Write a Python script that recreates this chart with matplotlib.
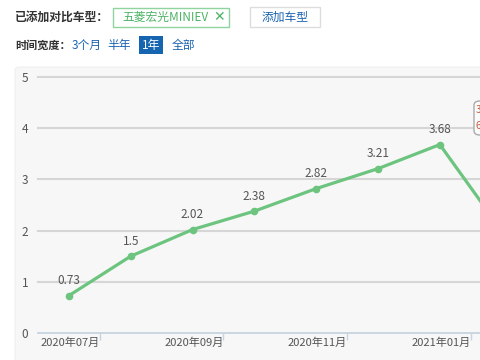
import matplotlib
matplotlib.use("Agg")
import matplotlib.pyplot as plt
from matplotlib.patches import FancyBboxPatch

plt.rcParams['font.family'] = ['Noto Sans CJK SC', 'DejaVu Sans']

months = ['2020年07月', '2020年08月', '2020年09月', '2020年10月',
          '2020年11月', '2020年12月', '2021年01月', '2021年02月']
values = [0.73, 1.5, 2.02, 2.38, 2.82, 3.21, 3.68, 2.0]
tick_labels = ['2020年07月', '2020年09月', '2020年11月', '2021年01月']
tick_pos = [0.5, 2.5, 4.5, 6.5]
y_ticks = [0, 1, 2, 3, 4, 5]

line_green = '#6cc47f'
blue = '#1a63b0'
gray_txt = '#555555'

fig = plt.figure(figsize=(4.8, 3.6), dpi=100)
fig.patch.set_facecolor('white')

# chart panel background
panel = FancyBboxPatch((15 / 480, -0.05), 1.0, 0.05 + 293 / 360,
                       boxstyle='round,pad=0,rounding_size=0.01',
                       transform=fig.transFigure, facecolor='#f7f7f7',
                       edgecolor='#efefef', linewidth=0.8, zorder=-5)
fig.patches.append(panel)

# header row 1
fig.text(15 / 480, 1 - 17 / 360, '已添加对比车型：', fontsize=8.5, fontweight='bold',
         color='#333333', va='center', ha='left')
tag = FancyBboxPatch((113 / 480, 1 - 27 / 360), 116 / 480, 19 / 360,
                     boxstyle='square,pad=0', transform=fig.transFigure,
                     facecolor='white', edgecolor='#8fd49f', linewidth=1.0)
fig.patches.append(tag)
fig.text(122 / 480, 1 - 17.5 / 360, '五菱宏光MINIEV', fontsize=8.5, color='#4cb365',
         va='center', ha='left')
fig.text(219 / 480, 1 - 17.5 / 360, '✕', fontsize=10, color='#4cb365',
         va='center', ha='center', family='DejaVu Sans')
btn = FancyBboxPatch((250 / 480, 1 - 27 / 360), 70 / 480, 20 / 360,
                     boxstyle='square,pad=0', transform=fig.transFigure,
                     facecolor='white', edgecolor='#dddddd', linewidth=1.0)
fig.patches.append(btn)
fig.text(285 / 480, 1 - 17 / 360, '添加车型', fontsize=8.5, color=blue,
         va='center', ha='center')

# header row 2
fig.text(15 / 480, 1 - 45 / 360, '时间宽度：', fontsize=8, fontweight='bold',
         color='#333333', va='center', ha='left')
fig.text(72 / 480, 1 - 45 / 360, '3个月', fontsize=8.5, color=blue, va='center', ha='left')
fig.text(107 / 480, 1 - 45 / 360, '半年', fontsize=8.5, color=blue, va='center', ha='left')
sel = FancyBboxPatch((139 / 480, 1 - 54 / 360), 24 / 480, 18 / 360,
                     boxstyle='square,pad=0', transform=fig.transFigure,
                     facecolor='#1565b0', edgecolor='none')
fig.patches.append(sel)
fig.text(151 / 480, 1 - 45 / 360, '1年', fontsize=8.5, color='white', va='center', ha='center')
fig.text(172 / 480, 1 - 45 / 360, '全部', fontsize=8.5, color=blue, va='center', ha='left')

# main chart
ax = fig.add_axes([38 / 480, 27 / 360, 442 / 480, 256 / 360])
ax.set_zorder(2)
ax.set_facecolor('none')
x = list(range(len(values)))
ax.plot(x, values, color=line_green, lw=2.3, marker='o', markersize=5.5,
        markeredgewidth=0, zorder=3, clip_on=True)
for xi, v in zip(x, values):
    if xi < 7:
        ax.annotate(f'{v:g}', (xi, v), xytext=(0, 6), textcoords='offset points',
                    ha='center', va='bottom', fontsize=8.5, color=gray_txt)

ax.set_xlim(-0.5, 6.65)
ax.set_ylim(0, 5)
ax.set_yticks(y_ticks)
ax.set_yticklabels([str(t) for t in y_ticks])
for t in y_ticks[1:]:
    ax.axhline(t, color='#d6d6d6', lw=1.5, zorder=1, clip_on=False)
ax.set_xticks(tick_pos)
ax.set_xticklabels(tick_labels, ha='right')
ax.tick_params(axis='x', length=5, width=1, color='#c6d4e1', labelsize=8,
               labelcolor=gray_txt, pad=-2)
ax.tick_params(axis='y', length=0, labelsize=8.5, labelcolor=gray_txt, pad=7)
for s in ['top', 'right', 'left']:
    ax.spines[s].set_visible(False)
ax.spines['bottom'].set_color('#c6d4e1')
ax.spines['bottom'].set_linewidth(1.3)

# tooltip cut off at the right edge
tip = FancyBboxPatch((474 / 480, 1 - 135 / 360), 20 / 480, 34 / 360,
                     boxstyle='round,pad=0,rounding_size=0.012',
                     transform=fig.transFigure, facecolor='#fbfbfb',
                     edgecolor='#aaaaaa', linewidth=1.0, zorder=5)
fig.patches.append(tip)
fig.text(476 / 480, 1 - 110 / 360, '3', fontsize=7, color='#c05a3a', va='center',
         ha='left', zorder=6)
fig.text(476 / 480, 1 - 126 / 360, '6', fontsize=7, color='#c05a3a', va='center',
         ha='left', zorder=6)

fig.savefig('out.png', dpi=100)
